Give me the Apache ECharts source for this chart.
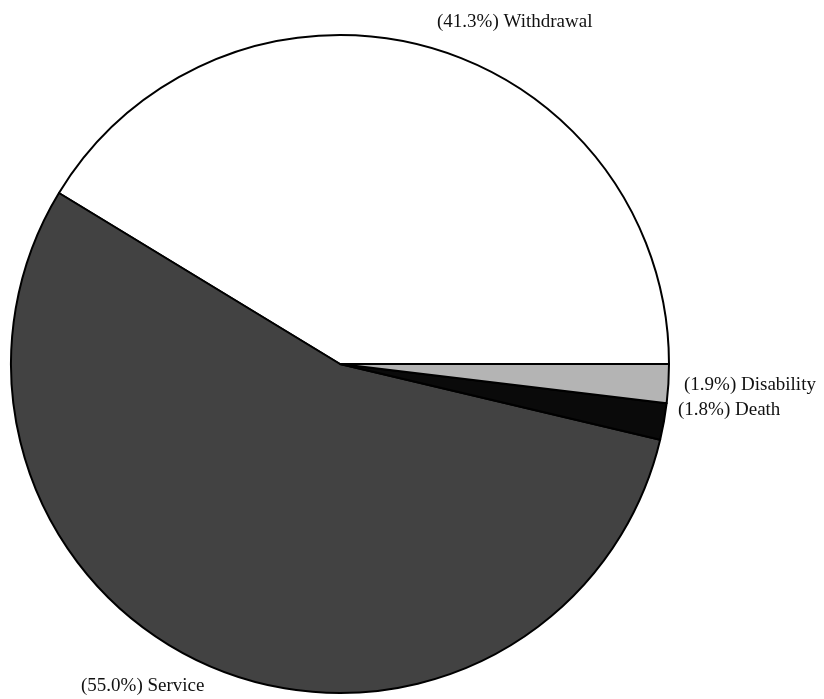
<!DOCTYPE html>
<html>
<head>
<meta charset="utf-8">
<script src="https://cdn.jsdelivr.net/npm/echarts@6/dist/echarts.min.js"></script>
<style>
html,body{margin:0;padding:0;background:#fff;}
#chart{width:824px;height:699px;}
</style>
</head>
<body>
<div id="chart"></div>
<script>
var categories = ['Withdrawal', 'Service', 'Death', 'Disability'];
var values = [41.3, 55.0, 1.8, 1.9];
var colors = ['#ffffff', '#424242', '#0a0a0a', '#b4b4b4'];

var labelPos = {
  'Withdrawal': [437, 22],
  'Service': [81, 686],
  'Death': [678, 410],
  'Disability': [684, 385]
};

var data = categories.map(function (c, i) {
  return { name: c, value: values[i], itemStyle: { color: colors[i] } };
});

var chart = echarts.init(document.getElementById('chart'), null, { renderer: 'canvas' });
chart.setOption({
  animation: false,
  backgroundColor: '#ffffff',
  series: [{
    type: 'pie',
    center: [340, 364],
    radius: [0, 329],
    startAngle: 0,
    clockwise: false,
    data: data,
    itemStyle: { borderColor: '#000', borderWidth: 2 },
    label: {
      show: true,
      position: 'outside',
      fontFamily: 'Liberation Serif',
      fontSize: 19,
      color: '#111',
      overflow: 'none',
      width: 300,
      formatter: function (p) { return '(' + p.value.toFixed(1) + '%) ' + p.name; }
    },
    labelLine: { show: false },
    labelLayout: function (params) {
      var name = categories[params.dataIndex];
      var pos = labelPos[name];
      return { x: pos[0], y: pos[1], align: 'left', verticalAlign: 'middle' };
    },
    emphasis: { disabled: true }
  }]
});
</script>
</body>
</html>
